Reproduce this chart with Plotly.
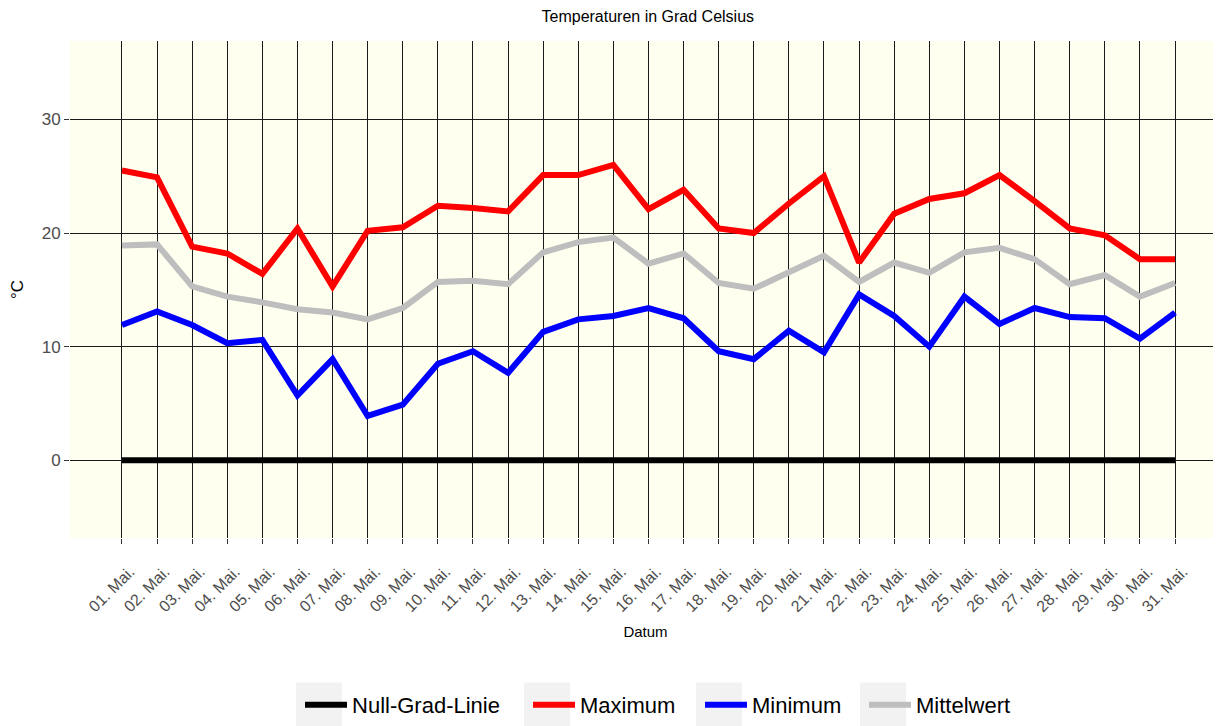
import plotly.graph_objects as go

dates = [f"{d:02d}. Mai." for d in range(1, 32)]
maximum = [25.5, 24.9, 18.8, 18.2, 16.4, 20.4, 15.3, 20.2, 20.5, 22.4,
           22.2, 21.9, 25.1, 25.1, 26.0, 22.1, 23.8, 20.4, 20.0, 22.6,
           25.0, 17.4, 21.7, 23.0, 23.5, 25.1, 22.8, 20.4, 19.8, 17.7, 17.7]
minimum = [11.9, 13.1, 11.9, 10.3, 10.6, 5.7, 8.9, 3.9, 4.9, 8.5,
           9.6, 7.7, 11.3, 12.4, 12.7, 13.4, 12.5, 9.6, 8.9, 11.4,
           9.5, 14.6, 12.7, 10.0, 14.4, 12.0, 13.4, 12.6, 12.5, 10.7, 13.0]
mittel = [18.9, 19.0, 15.3, 14.4, 13.9, 13.3, 13.0, 12.4, 13.4, 15.7,
          15.8, 15.5, 18.3, 19.2, 19.6, 17.3, 18.2, 15.6, 15.1, 16.6,
          18.0, 15.7, 17.4, 16.5, 18.3, 18.7, 17.7, 15.5, 16.3, 14.4, 15.6]
null_line = [0] * 31

series = [
    ("Null-Grad-Linie", null_line, "#000000"),
    ("Maximum", maximum, "#FF0000"),
    ("Minimum", minimum, "#0000FF"),
    ("Mittelwert", mittel, "#BEBEBE"),
]

# legend layout (paper coords, relative to plot area)
legend_ids = ["legend", "legend2", "legend3", "legend4"]
legend_x = [0.19983, 0.39792, 0.54736, 0.68984]
key_boxes = [(0.19635, 0.23632), (0.39444, 0.43440),
             (0.54388, 0.58384), (0.68636, 0.72633)]
LEG_Y = -0.3367

fig = go.Figure()
for (name, vals, col), lid in zip(series, legend_ids):
    fig.add_trace(go.Scatter(x=dates, y=vals, mode="lines", name=name,
                             legend=lid, line=dict(color=col, width=6)))

legend_common = dict(orientation="h", xanchor="left", y=LEG_Y,
                     yanchor="middle", font=dict(size=22, color="black"),
                     itemwidth=42, bgcolor="rgba(0,0,0,0)")
layout_legends = {lid: dict(x=lx, **legend_common)
                  for lid, lx in zip(legend_ids, legend_x)}

fig.update_layout(
    width=1213, height=718,
    margin=dict(l=62, r=0, t=33, b=186),
    paper_bgcolor="white",
    plot_bgcolor="#FFFFF0",
    font=dict(family="Liberation Sans, Arial, sans-serif", color="black"),
    title=dict(text="Temperaturen in Grad Celsius", x=0.502, xref="paper",
               xanchor="center", y=0.988, yanchor="middle",
               font=dict(size=16, color="black")),
    showlegend=True,
    **layout_legends,
)
for x0, x1 in key_boxes:
    fig.add_shape(type="rect", xref="paper", yref="paper",
                  x0=x0, x1=x1, y0=-0.2906, y1=-0.385,
                  fillcolor="#F2F2F2", line=dict(width=0), layer="below")

fig.update_xaxes(
    type="category", range=[-1.48, 31.31],
    showgrid=True, gridcolor="#1a1a1a", gridwidth=1,
    ticks="outside", ticklen=5, tickcolor="#333333",
    tickangle=-45, tickfont=dict(size=16, color="#4D4D4D"),
    ticklabelstandoff=12, ticklabelshift=8,
    title=dict(text="Datum", font=dict(size=15, color="black"), standoff=12),
    zeroline=False, showline=False,
)
fig.update_yaxes(
    range=[-6.84, 36.9], tickvals=[0, 10, 20, 30],
    showgrid=True, gridcolor="#1a1a1a", gridwidth=1,
    ticks="outside", ticklen=5, tickcolor="#333333",
    tickfont=dict(size=17, color="#4D4D4D"),
    title=dict(text="°C", font=dict(size=17, color="black"), standoff=16),
    zeroline=False, showline=False,
)

fig.write_html("out.html")
